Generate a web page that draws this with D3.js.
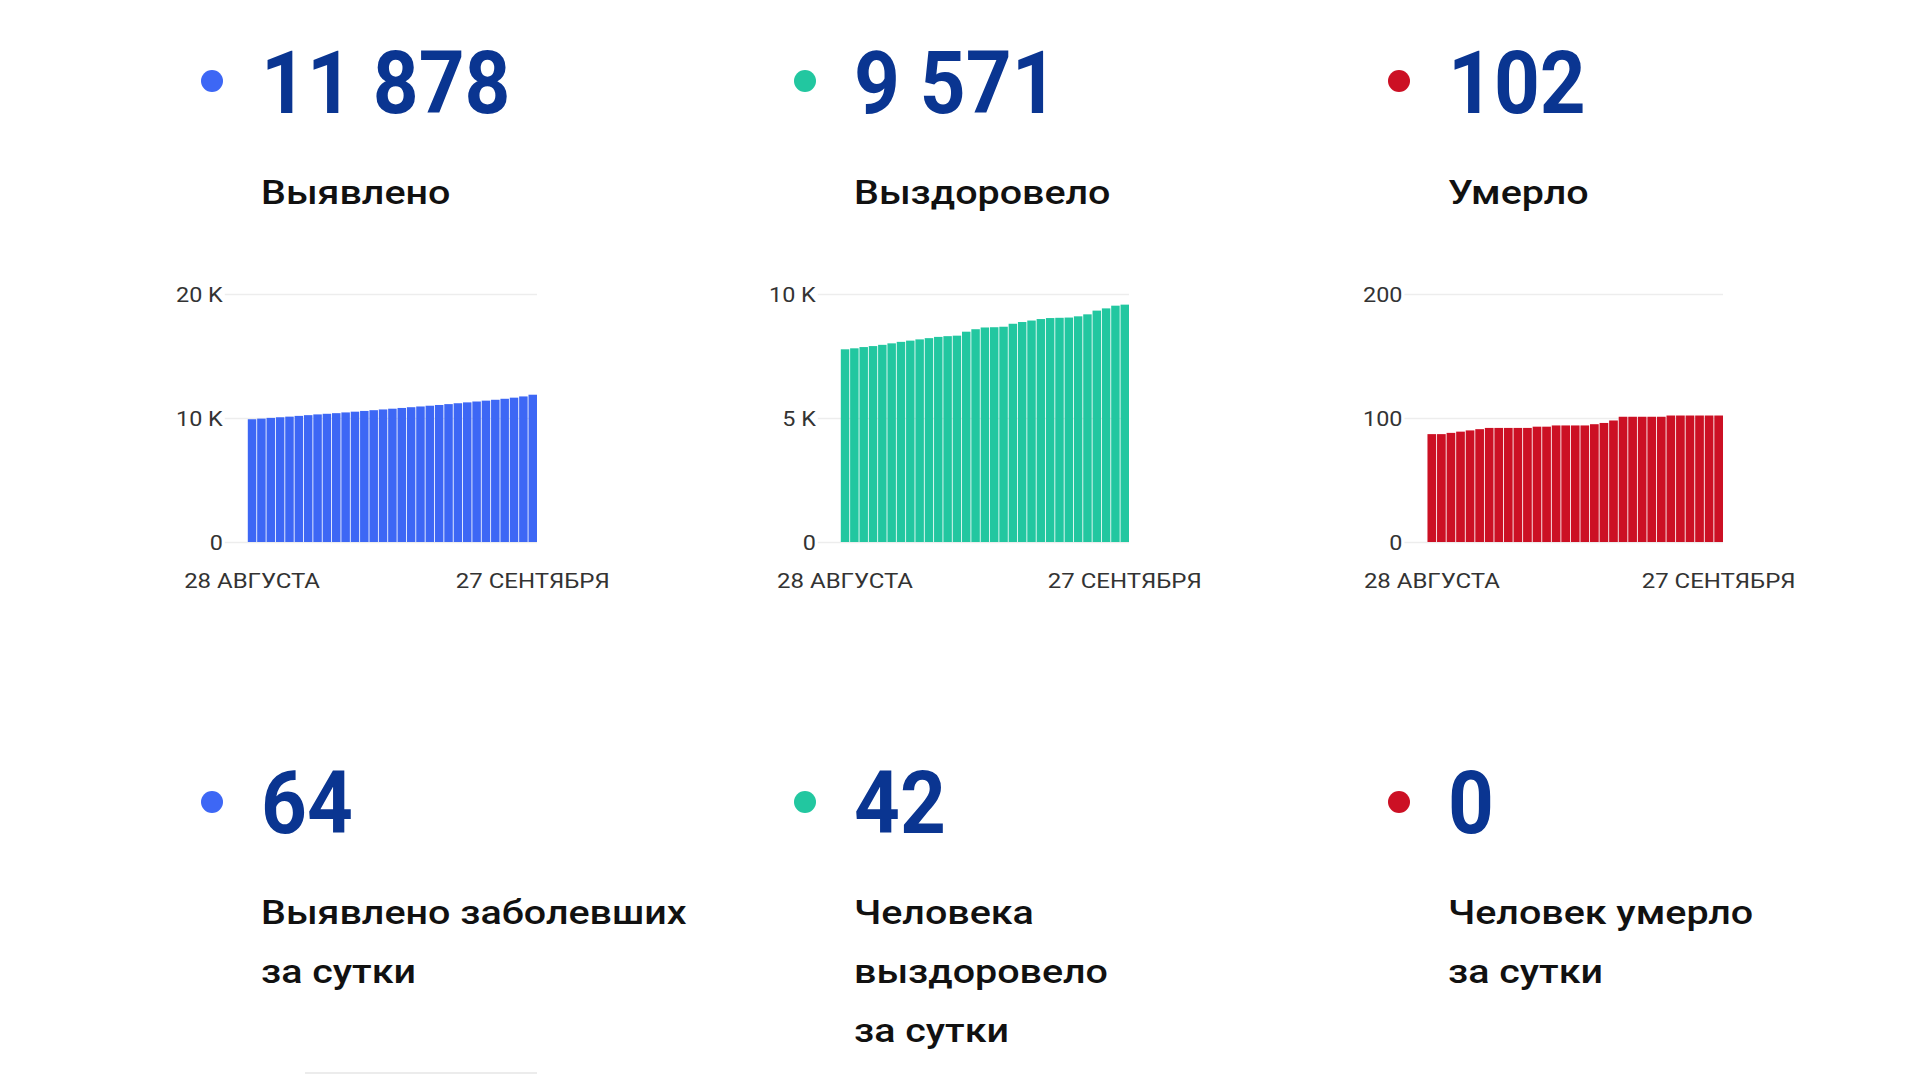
<!DOCTYPE html>
<html><head><meta charset="utf-8">
<script src="https://cdn.jsdelivr.net/npm/d3@7"></script>
<style>
html,body{margin:0;padding:0;background:#fff;}
svg{display:block;font-family:Roboto,"Noto Sans",sans-serif;}
</style></head>
<body>
<svg id="c" width="1920" height="1080"></svg>
<script>
// ---- data ----
const dates = d3.range(31).map(i => new Date(2020, 7, 28 + i));
const xTickLabels = ["28 АВГУСТА", "27 СЕНТЯБРЯ"];
const casesTotal = [9900, 9950, 10010, 10060, 10110, 10170, 10230, 10290, 10340, 10390, 10450, 10510, 10570, 10630, 10690, 10750, 10810, 10870, 10930, 10990, 11050, 11120, 11190, 11260, 11330, 11400, 11470, 11550, 11640, 11740, 11878];
const recoveredTotal = [7770, 7810, 7860, 7900, 7950, 8010, 8070, 8120, 8170, 8220, 8270, 8300, 8320, 8480, 8580, 8650, 8660, 8680, 8800, 8870, 8930, 8990, 9030, 9040, 9050, 9100, 9180, 9330, 9420, 9529, 9571];
const deathsTotal = [87, 87, 88, 89, 90, 91, 92, 92, 92, 92, 92, 93, 93, 94, 94, 94, 94, 95, 96, 98, 101, 101, 101, 101, 101, 102, 102, 102, 102, 102, 102];
const yTicksCases = [0, 10000, 20000];
const yTicksRecovered = [0, 5000, 10000];
const yTicksDeaths = [0, 100, 200];
const totalsLabels = ["Выявлено", "Выздоровело", "Умерло"];
const dailyValues = [64, 42, 0];
const dailyLabels = [["Выявлено заболевших", "за сутки"], ["Человека", "выздоровело", "за сутки"], ["Человек умерло", "за сутки"]];
const colors = ["#3d67f5", "#22c7a0", "#cc1024"];

// ---- layout ----
const svg = d3.select("#c");
const numColor = "#0a3591";
const dotX = [212, 805, 1399];
const textX = [261, 854, 1448];
const panelL = [176, 769, 1363];
const panelR = [537, 1129, 1723];
const bigSX = 0.92, labelSX = 1.16, tickSX = 1.17;
const fmtBig = v => d3.format(",")(v).replace(/,/g, " ");
const kFmt = v => v === 0 ? "0" : (v >= 1000 ? (v / 1000) + " K" : String(v));

function addText(g, x, y, sx, txt) {
  return g.append("text").attr("transform", `translate(${x},${y}) scale(${sx},1)`).text(txt);
}

// top row
const totals = [casesTotal, recoveredTotal, deathsTotal];
totals.forEach((s, i) => {
  const g = svg.append("g");
  g.append("circle").attr("cx", dotX[i]).attr("cy", 81).attr("r", 11).attr("fill", colors[i]);
  addText(g, textX[i], 113, bigSX, fmtBig(s[s.length - 1]))
    .attr("font-size", 87).attr("font-weight", 700).attr("fill", numColor);
  addText(g, textX[i], 204, labelSX, totalsLabels[i])
    .attr("font-size", 34).attr("font-weight", 500).attr("fill", "#111");
});

// charts
const yTicks = [yTicksCases, yTicksRecovered, yTicksDeaths];
totals.forEach((s, i) => {
  const g = svg.append("g");
  const y = d3.scaleLinear().domain([0, yTicks[i][2]]).range([542, 294]);
  const tmp = g.append("text").attr("font-size", 20).text(kFmt(yTicks[i][2]));
  const lw = tmp.node().getComputedTextLength() * tickSX;
  tmp.remove();
  const gx0 = panelL[i] + lw + 2;
  const x = d3.scaleBand().domain(dates).range([gx0 + 23, panelR[i]]).paddingInner(0.09).paddingOuter(0);
  const axis = d3.axisLeft(y).tickValues(yTicks[i]).tickSize(-(panelR[i] - gx0)).tickFormat(kFmt).tickPadding(2);
  const ag = g.append("g").attr("transform", `translate(${gx0},0)`).call(axis);
  ag.select(".domain").remove();
  ag.selectAll(".tick line").attr("stroke", "#ededed").attr("stroke-width", 1.5);
  ag.selectAll(".tick text").attr("font-size", 20).attr("fill", "#333").attr("font-family", "Roboto")
    .attr("x", 0).attr("dy", "0.36em").attr("transform", `translate(-2,0) scale(${tickSX},1)`);
  g.selectAll("rect.bar").data(s).join("rect").attr("class", "bar")
    .attr("x", (d, j) => x(dates[j])).attr("width", x.bandwidth())
    .attr("y", d => y(d)).attr("height", d => y(0) - y(d)).attr("fill", colors[i]);
  const xa = d3.axisBottom(x).tickValues([dates[0], dates[dates.length - 1]])
    .tickFormat((d, k) => xTickLabels[k]).tickSize(0).tickPadding(0);
  const xg = g.append("g").attr("transform", `translate(0,${542})`).call(xa);
  xg.select(".domain").remove();
  xg.selectAll(".tick text").attr("font-size", 20.5).attr("fill", "#333").attr("font-family", "Roboto")
    .attr("dy", null).attr("y", 0).attr("transform", `translate(0,46) scale(${tickSX},1)`);
});

// bottom row
dailyValues.forEach((v, i) => {
  const g = svg.append("g");
  g.append("circle").attr("cx", dotX[i]).attr("cy", 802).attr("r", 11).attr("fill", colors[i]);
  addText(g, textX[i], 833, bigSX, fmtBig(v))
    .attr("font-size", 87).attr("font-weight", 700).attr("fill", numColor);
  dailyLabels[i].forEach((line, k) => {
    addText(g, textX[i], 924 + k * 59, labelSX, line)
      .attr("font-size", 34).attr("font-weight", 500).attr("fill", "#111");
  });
});
svg.append("line").attr("x1", 305).attr("x2", 537).attr("y1", 1073).attr("y2", 1073).attr("stroke", "#ececec").attr("stroke-width", 2);
</script>
</body></html>
